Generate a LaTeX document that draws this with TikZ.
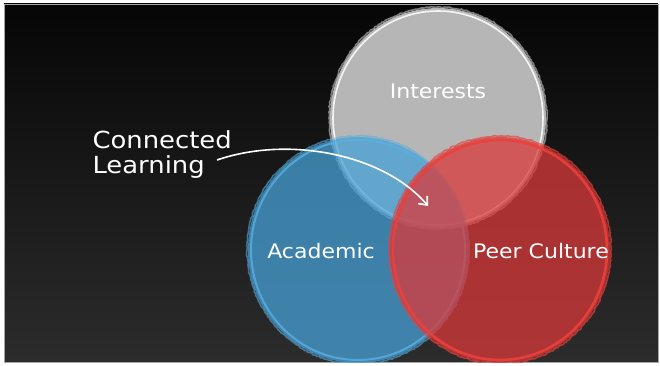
\documentclass[tikz,border=0pt]{standalone}
\usepackage{fontspec}
\setmainfont{DejaVu Sans}[FakeStretch=1.1]
\usetikzlibrary{arrows.meta,decorations.pathmorphing}
\definecolor{bgtop}{RGB}{6,6,6}
\definecolor{bgbot}{RGB}{44,44,44}
\definecolor{grayfill}{RGB}{182,182,182}
\definecolor{bluefill}{RGB}{71,161,215}
\definecolor{blueedge}{RGB}{90,175,225}
\definecolor{redfill}{RGB}{217,57,57}
\definecolor{rededge}{RGB}{236,64,60}
\tikzset{
  label/.style={text=white, font=\fontsize{20}{23}\selectfont},
  rough/.style={decorate, decoration={random steps, segment length=2pt, amplitude=0.6pt}}
}
\begin{document}
\begin{tikzpicture}[x=1pt, y=-1pt]
    \useasboundingbox (0,0) rectangle (660,366);
    \fill[white] (0,0) rectangle (660,366);
    % Fondo
    \shade[top color=bgtop, bottom color=bgbot] (4,4) rectangle (658,362);
    \draw[gray!70, line width=0.6pt] (4,4) rectangle (658,362);
    \begin{scope}
    \clip (4,4) rectangle (658,362);
    % Interests
    \fill[grayfill] (438,118) ellipse [x radius=108, y radius=110];
    \draw[gray!60, line width=1.6pt, rough, opacity=0.7] (438,118) ellipse [x radius=109, y radius=111];
    \draw[white!92!gray, line width=1.6pt] (438,118) ellipse [x radius=105, y radius=107];
    % Academic
    \fill[bluefill, opacity=0.75] (358,250) ellipse [x radius=110, y radius=113];
    \draw[blueedge, line width=1.6pt, rough, opacity=0.6] (358,250) ellipse [x radius=111, y radius=114];
    \draw[blueedge, line width=2pt, opacity=0.8] (358,250) ellipse [x radius=107, y radius=110];
    % Peer Culture
    \fill[redfill, opacity=0.75] (500,250) ellipse [x radius=110, y radius=113];
    \draw[rededge, line width=1.6pt, rough, opacity=0.7] (500,250) ellipse [x radius=111, y radius=114];
    \draw[rededge, line width=2.6pt, opacity=0.9] (500,250) ellipse [x radius=107, y radius=110];
    \end{scope}
    % Etiquetas
    \node[label] (interests) at (438,91) {Interests};
    \node[label] (academic) at (321,251) {Academic};
    \node[label] (peer) at (541,251) {Peer Culture};
    \node[label, font=\fontsize{23.5}{25}\selectfont, align=left, anchor=west]
        (connected) at (89,155) {Connected\\Learning};
    % Flecha
    \coordinate (tail) at (217,160);
    \coordinate (tip) at (428,206);
    \draw[white, line width=1.6pt, -{Straight Barb[length=7pt, width=12pt]}]
        (tail) .. controls (290,135) and (385,155) .. (tip);
\end{tikzpicture}
\end{document}
